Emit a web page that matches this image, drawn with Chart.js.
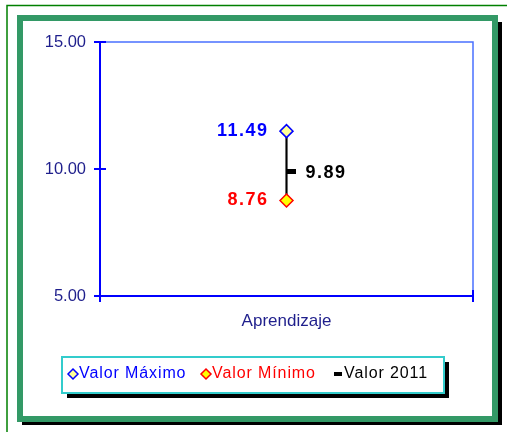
<!DOCTYPE html>
<html>
<head>
<meta charset="utf-8">
<script src="https://cdn.jsdelivr.net/npm/chart.js@4/dist/chart.umd.min.js"></script>
<style>
  html, body { margin: 0; padding: 0; background: #fff; }
  #wrap { width: 507px; height: 432px; }
</style>
</head>
<body>
<div id="wrap"><canvas id="grafico" width="507" height="432"></canvas></div>
<script>
var categories = ['Aprendizaje'];
var maxValues = [11.49];
var minValues = [8.76];
var values2011 = [9.89];
var yTicks = [5, 10, 15];
var seriesNames = ['Valor Máximo', 'Valor Mínimo', 'Valor 2011'];

var FONT = "'Liberation Sans', Arial, sans-serif";
var NAVY = '#1f1f8c';

// marca del valor 2011: rayita negra a la derecha de la linea
var dash = document.createElement('canvas');
dash.width = 18; dash.height = 5;
var dctx = dash.getContext('2d');
dctx.fillStyle = '#000';
dctx.fillRect(9, 0, 9, 5);

var marcoPlugin = {
    id: 'marco',
    beforeDraw: function(chart) {
        var c = chart.ctx;
        c.save();
        c.fillStyle = '#fff';
        c.fillRect(0, 0, chart.width, chart.height);
        // linea verde fina exterior
        c.strokeStyle = '#008000';
        c.lineWidth = 1.5;
        c.beginPath();
        c.moveTo(7, 432); c.lineTo(7, 5.5); c.lineTo(507, 5.5);
        c.stroke();
        // sombra
        c.fillStyle = '#000';
        c.fillRect(498, 22, 4, 403);
        c.fillRect(22, 422, 480, 3);
        // marco verde grueso
        c.strokeStyle = '#339966';
        c.lineWidth = 6;
        c.strokeRect(20, 18, 475, 401);
        c.restore();
    },
    afterDraw: function(chart) {
        var c = chart.ctx;
        var area = chart.chartArea;
        var y = chart.scales.y;
        c.save();
        // borde superior y derecho del area
        c.strokeStyle = '#4a70ff';
        c.lineWidth = 1.5;
        c.beginPath();
        c.moveTo(area.left, area.top); c.lineTo(area.right, area.top); c.lineTo(area.right, area.bottom);
        c.stroke();
        // marcas hacia dentro
        c.strokeStyle = '#0000ff';
        c.lineWidth = 2;
        c.beginPath();
        yTicks.forEach(function(v) {
            var py = y.getPixelForValue(v);
            c.moveTo(area.left, py); c.lineTo(area.left + 6, py);
        });
        c.moveTo(area.left, area.bottom); c.lineTo(area.left, area.bottom - 6);
        c.moveTo(area.right, area.bottom); c.lineTo(area.right, area.bottom - 6);
        c.stroke();

        // leyenda
        c.fillStyle = '#000';
        c.fillRect(67, 362, 382, 36);
        c.fillStyle = '#fff';
        c.fillRect(62, 357, 382, 36);
        c.strokeStyle = '#33cccc';
        c.lineWidth = 2;
        c.strokeRect(62, 357, 382, 36);
        var xs = [73, 206, 338];
        var ly = 374;
        c.font = '16px ' + FONT;
        c.letterSpacing = '0.9px';
        c.textBaseline = 'middle';
        c.textAlign = 'left';
        var sets = chart.data.datasets.filter(function(d) { return d.enLeyenda; });
        sets.forEach(function(d, i) {
            var x = xs[i];
            if (d.pointStyle === 'rectRot') {
                c.beginPath();
                c.moveTo(x, ly - 5); c.lineTo(x + 5, ly); c.lineTo(x, ly + 5); c.lineTo(x - 5, ly);
                c.closePath();
                c.fillStyle = d.backgroundColor;
                c.fill();
                c.strokeStyle = d.borderColor;
                c.lineWidth = 1.5;
                c.stroke();
            } else {
                c.fillStyle = '#000';
                c.fillRect(x - 4, ly - 2, 8, 4);
            }
            c.fillStyle = d.borderColor;
            c.fillText(d.label, x + 6, ly);
        });
        c.restore();
    },
    afterDatasetsDraw: function(chart) {
        var c = chart.ctx;
        c.save();
        c.font = 'bold 18px ' + FONT;
        c.letterSpacing = '1.5px';
        c.textBaseline = 'middle';
        chart.data.datasets.forEach(function(d, di) {
            if (!d.etiqueta) return;
            var meta = chart.getDatasetMeta(di);
            meta.data.forEach(function(pt, i) {
                c.fillStyle = d.colorEtiqueta;
                var txt = d.data[i].toFixed(2);
                if (d.etiqueta === 'izq') {
                    c.textAlign = 'right';
                    c.fillText(txt, pt.x - 18, pt.y);
                } else {
                    c.textAlign = 'left';
                    c.fillText(txt, pt.x + 19, pt.y + 1);
                }
            });
        });
        c.restore();
    }
};

var ctx = document.getElementById('grafico').getContext('2d');
var grafico = new Chart(ctx, {
    type: 'line',
    data: {
        labels: categories,
        datasets: [{
            type: 'bar',
            label: 'rango',
            data: categories.map(function(c, i) { return [minValues[i], maxValues[i]]; }),
            backgroundColor: '#000',
            barThickness: 1.5,
            order: 10
        }, {
            label: seriesNames[0],
            data: maxValues,
            showLine: false,
            pointStyle: 'rectRot',
            pointRadius: 6.5,
            pointBorderWidth: 1.5,
            backgroundColor: '#ffff99',
            borderColor: '#0000ff',
            enLeyenda: true,
            etiqueta: 'izq',
            colorEtiqueta: '#0000ff',
            order: 1
        }, {
            label: seriesNames[1],
            data: minValues,
            showLine: false,
            pointStyle: 'rectRot',
            pointRadius: 6.5,
            pointBorderWidth: 1.5,
            backgroundColor: '#ffff00',
            borderColor: '#ff0000',
            enLeyenda: true,
            etiqueta: 'izq',
            colorEtiqueta: '#ff0000',
            order: 1
        }, {
            label: seriesNames[2],
            data: values2011,
            showLine: false,
            pointStyle: dash,
            backgroundColor: '#000',
            borderColor: '#000',
            enLeyenda: true,
            etiqueta: 'der',
            colorEtiqueta: '#000',
            order: 2
        }]
    },
    options: {
        responsive: false,
        animation: false,
        layout: { padding: { left: 0, top: 42, right: 34, bottom: 96 } },
        plugins: {
            legend: { display: false },
            tooltip: { enabled: false }
        },
        scales: {
            x: {
                offset: true,
                grid: { display: true, offset: true, drawOnChartArea: false, drawTicks: true, tickLength: 6, color: '#0000ff', lineWidth: 2 },
                border: { display: true, color: '#0000ff', width: 2 },
                ticks: { display: false },
                title: { display: true, text: categories[0], color: NAVY, font: { size: 17, family: FONT }, padding: { top: 0, bottom: 4 } },
                afterFit: function(s) { s.height = 40; }
            },
            y: {
                min: 5,
                max: 15,
                grid: { display: true, drawOnChartArea: false, drawTicks: true, tickLength: 6, color: '#0000ff', lineWidth: 2 },
                border: { display: true, color: '#0000ff', width: 2 },
                afterBuildTicks: function(s) { s.ticks = yTicks.map(function(v) { return { value: v }; }); },
                ticks: {
                    color: NAVY,
                    padding: 8,
                    font: { size: 16.5, family: FONT },
                    callback: function(v) { return Number(v).toFixed(2); }
                },
                afterFit: function(s) { s.width = 100; }
            }
        }
    },
    plugins: [marcoPlugin]
});
</script>
</body>
</html>
